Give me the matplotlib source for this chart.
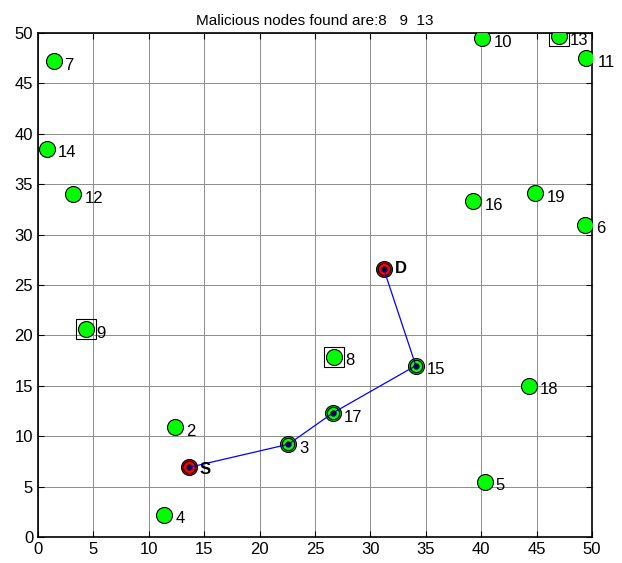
import numpy as np
import matplotlib.pyplot as plt

plt.rcParams['font.family'] = ['Liberation Sans', 'DejaVu Sans']

# node positions (node 1 = source S, node 20 = destination D)
node_ids = list(range(1, 21))
node_x = [13.6, 12.4, 22.6, 11.4, 40.3, 49.4, 1.4, 26.7, 4.3, 40.1,
          49.5, 3.2, 47.0, 0.8, 34.1, 39.3, 26.6, 44.3, 44.9, 31.2]
node_y = [6.9, 10.9, 9.2, 2.2, 5.5, 31.0, 47.2, 17.9, 20.6, 49.5,
          47.5, 34.0, 49.7, 38.5, 17.0, 33.3, 12.3, 15.0, 34.1, 26.6]
source, dest = 1, 20
malicious = [8, 9, 13]
route = [1, 3, 17, 15, 20]

fig = plt.figure(figsize=(6.22, 5.63), dpi=100)
ax = fig.add_axes([38 / 622, 26 / 563, 554 / 622, 504 / 563])

# all nodes
for i, (x, y) in zip(node_ids, zip(node_x, node_y)):
    col = 'red' if i in (source, dest) else '#00ff00'
    ax.plot(x, y, 'o', ms=11.5, mfc=col, mec='black', mew=0.8, zorder=3)
    if i == source:
        ax.text(x + 1.0, y - 0.2, 'S', fontsize=12, fontweight='bold', va='center', zorder=5)
    elif i == dest:
        ax.text(x + 1.0, y, 'D', fontsize=12, fontweight='bold', va='center', zorder=5)
    else:
        ax.text(x + 1.0, y - 0.4, str(i), fontsize=12, va='center', zorder=5)

# malicious nodes boxed
for m in malicious:
    ax.plot(node_x[m - 1], node_y[m - 1], 's', ms=14.5, mfc='none', mec='black',
            mew=0.8, zorder=4)

# route
rx = [node_x[i - 1] for i in route]
ry = [node_y[i - 1] for i in route]
ax.plot(rx, ry, '-', color='blue', lw=0.9, zorder=4)
ax.plot(rx, ry, 'o', ls='none', ms=9, mfc='none', mec='black', mew=0.9, zorder=4)
ax.plot(rx, ry, 'o', ls='none', ms=3.5, mfc='#000050', mec='#000050', zorder=5)

ax.set_xlim(0, 50)
ax.set_ylim(0, 50)
ax.set_xticks(np.arange(0, 51, 5))
ax.set_yticks(np.arange(0, 51, 5))
ax.tick_params(direction='in', top=True, right=True, labelsize=12, length=4)
ax.grid(True, color='#8c8c8c', ls='-', lw=0.7)
for s in ax.spines.values():
    s.set_linewidth(1.2)
ax.set_title('Malicious nodes found are:8   9  13', fontsize=11, pad=6)

fig.savefig('out.png', dpi=100)
